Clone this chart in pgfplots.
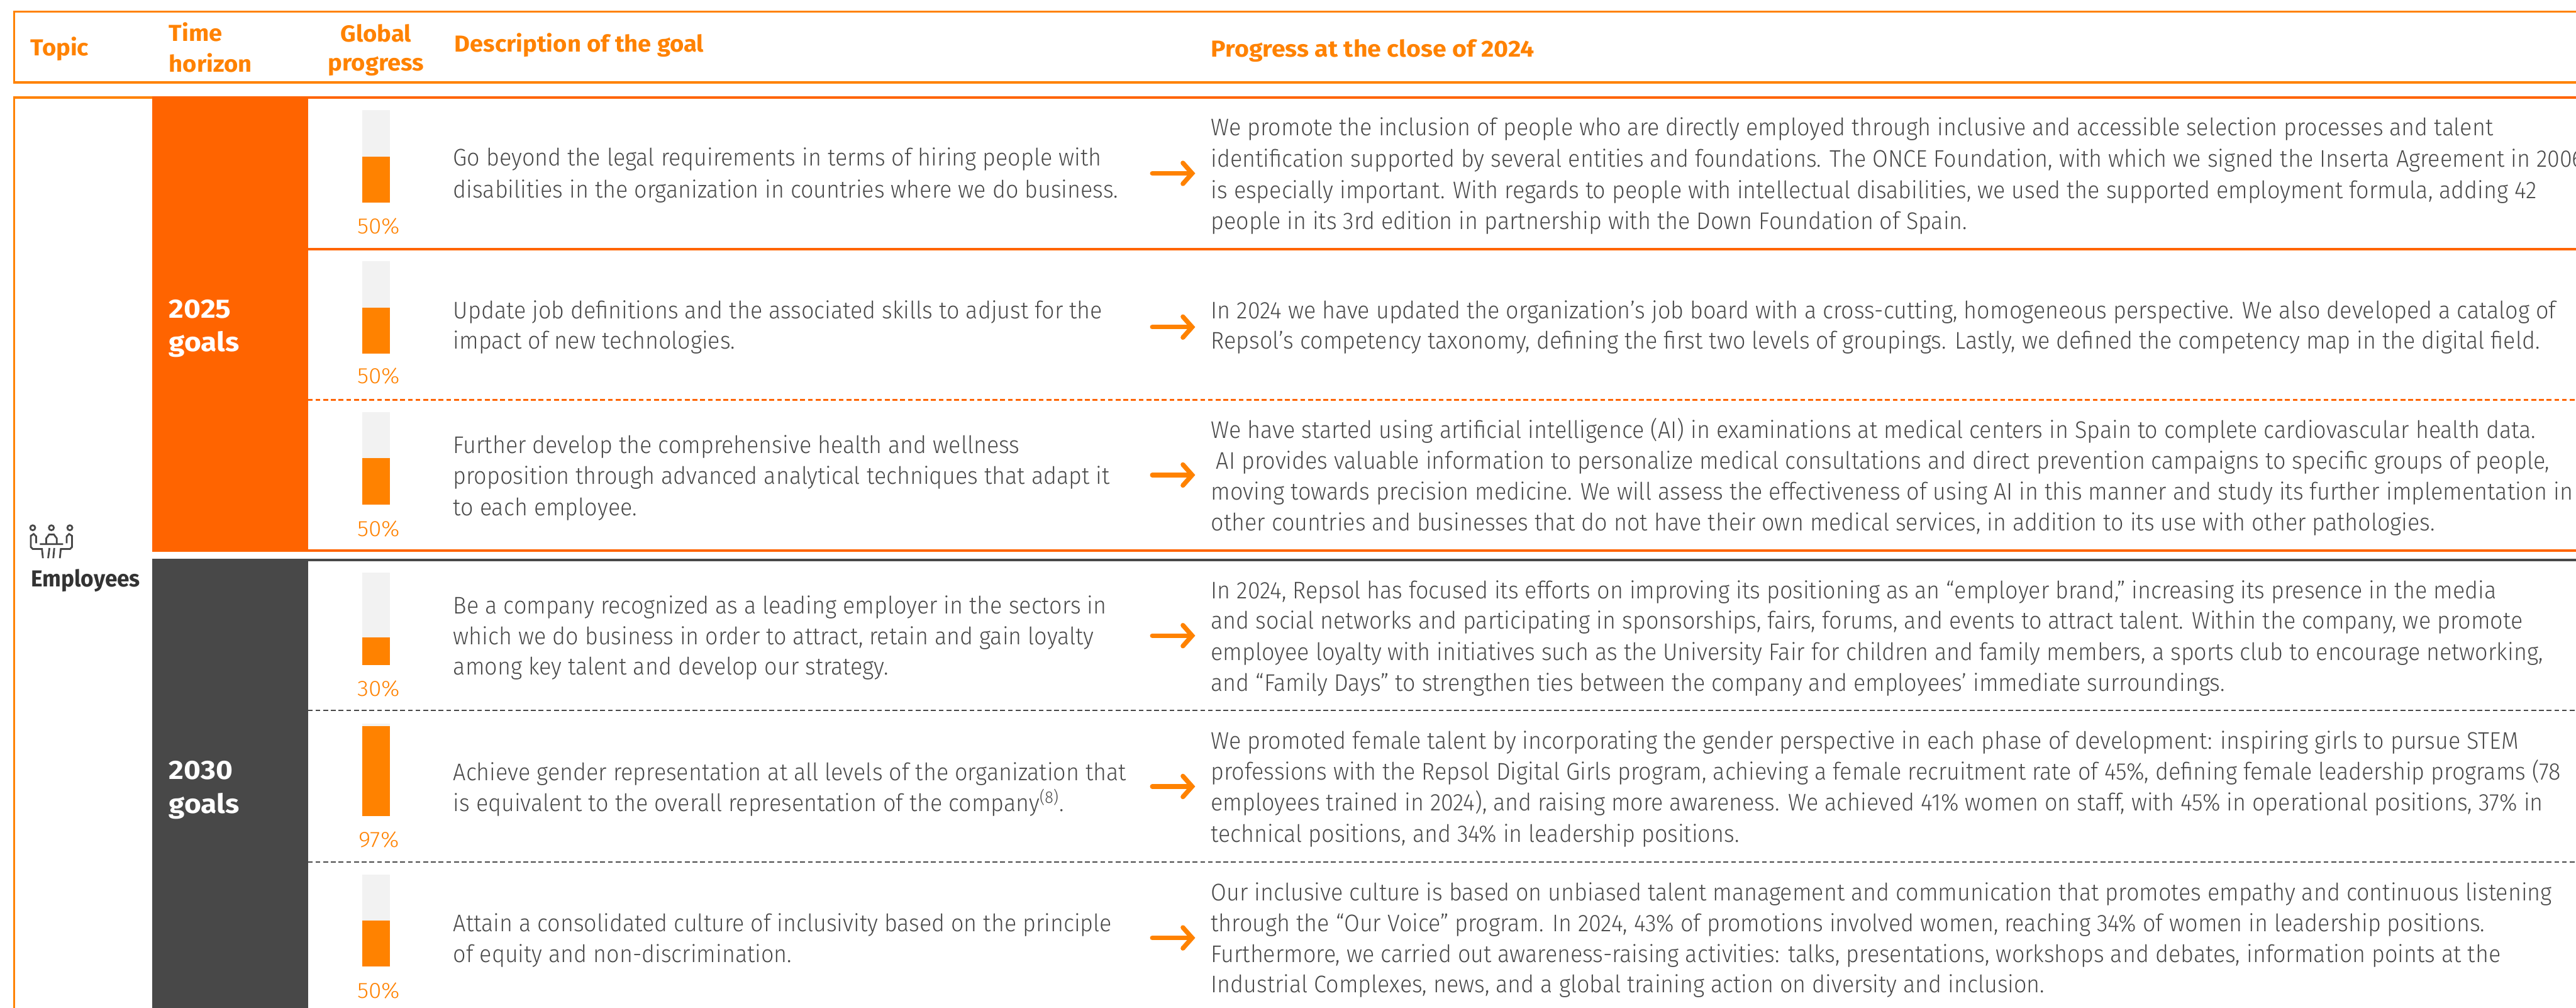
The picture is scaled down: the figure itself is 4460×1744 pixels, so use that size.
\documentclass[border=0pt]{standalone}
\usepackage{pgfplots}
\pgfplotsset{compat=1.18}
\usepackage{fontspec}
\setmainfont{Fira Sans}[UprightFont=* Light,BoldFont=* Bold]
\definecolor{org}{HTML}{FF8200}
\definecolor{rdo}{HTML}{FF6400}
\definecolor{drk}{HTML}{484848}
\definecolor{lgt}{HTML}{F2F2F2}
\definecolor{txt}{HTML}{4A4A4A}
\newfontfamily\bodyfam{Fira Sans Light}[FakeStretch=0.94]
\newfontfamily\pctfam{Fira Sans Light}[FakeStretch=1.05]
\newfontfamily\hdfam{Fira Sans Bold}[FakeStretch=1.04]
\newfontfamily\hdwfam{Fira Sans Bold}[FakeStretch=1.07]
\newfontfamily\emfam{Fira Sans Bold}[FakeStretch=0.96]
\newfontfamily\yrfam{Fira Sans Bold}[FakeStretch=1.09]
\newcommand\tl[3]{\node[anchor=base west,inner sep=0pt,text=txt,font=\fontsize{10.4}{12}\bodyfam] at (#1,#2) {#3};}
\newcommand\hd[3]{\node[anchor=base west,inner sep=0pt,text=org,font=\fontsize{10}{12}\hdfam] at (#1,#2) {#3};}
\newcommand\hdc[3]{\node[anchor=base,inner sep=0pt,text=org,font=\fontsize{10}{12}\hdfam] at (#1,#2) {#3};}
\newcommand\yr[2]{\node[anchor=base west,inner sep=0pt,text=white,font=\fontsize{11.5}{12}\yrfam] at (292,#1) {#2};}
\newcommand\arw[1]{\draw[org,line width=2pt,line join=miter] (2048,#1-18)--(2064,#1)--(2048,#1+18);
\draw[org,line width=2pt,line cap=round] (1995,#1)--(2062,#1);
\fill[org] (2048,#1-18) circle[radius=4] (2048,#1+18) circle[radius=4];}
% progress bar: top pixel of the track, value, pixel of the label
\newcommand\prog[3]{%
\pgfmathsetmacro{\pby}{-0.25*(#1+160)}%
\begin{axis}[at={(156.75pt,\pby pt)},anchor=south west,scale only axis,width=12pt,height=40pt,
  xmin=-0.5,xmax=0.5,ymin=0,ymax=100,axis lines=none,clip=false]
\addplot[ybar,bar width=12pt,bar shift=0pt,fill=lgt,draw=none] coordinates {(0,100)};
\addplot[ybar,bar width=12pt,bar shift=0pt,fill=org,draw=none] coordinates {(0,#2)};
\end{axis}
\node[anchor=base,inner sep=0pt,text=org,font=\fontsize{9.6}{12}\pctfam] at (656,#3) {#2\%};}
\begin{document}
\begin{tikzpicture}[x=0.25pt,y=-0.25pt]
\clip (0,0) rectangle (4460,1744);
\fill[white] (0,0) rectangle (4460,1744);
% header frame
\draw[org,line width=1pt] (4460,20)--(24.5,20)--(24.5,143)--(4460,143);
% body frame
\draw[org,line width=1pt] (24.5,1744)--(24.5,169)--(263,169);
\fill[rdo] (263,167) rectangle (533,955);
\fill[drk] (263,967) rectangle (533,1744);
\draw[rdo,line width=1pt] (533,169)--(4460,169) (533,431)--(4460,431) (533,953)--(4460,953);
\draw[rdo,line width=0.8pt,dash pattern=on 2.1pt off 1.23pt] (533,692)--(4460,692);
\draw[drk,line width=1pt] (533,969)--(4460,969);
\draw[drk,line width=0.65pt,dash pattern=on 2.1pt off 1.23pt] (533,1229.5)--(4460,1229.5) (533,1492)--(4460,1492);
% header text
\hd{52}{96}{Topic}
\hd{292}{71}{Time}
\hd{292}{125}{horizon}
\hdc{651}{72}{Global}
\hdc{651}{122}{progress}
\hd{786}{90}{Description of the goal}
\node[anchor=base west,inner sep=0pt,text=org,font=\fontsize{10}{12}\hdwfam] at (2096,99) {Progress at the close of 2024};
% side labels
\yr{550}{2025}
\yr{608}{goals}
\yr{1349}{2030}
\yr{1407}{goals}
\node[anchor=base west,inner sep=0pt,text=black!80,font=\fontsize{10}{12}\emfam] at (53,1015) {Employees};
% icon
\begin{scope}[shift={(20,890)},x=0.0833pt,y=-0.0833pt,drk,line width=0.75pt]
\draw (110,70) circle[radius=13] (207,70) circle[radius=13] (303,70) circle[radius=13];
\draw (128,150)--(128,115)--(115,102)--(100,112)--(100,170)--(110,180)--(158,180)--(163,228);
\draw (286,150)--(286,115)--(299,102)--(314,112)--(314,170)--(304,180)--(256,180)--(251,228);
\draw (180,155)--(180,125)--(195,105)--(220,105)--(235,125)--(235,155);
\draw (147,155)--(268,155) (197,175)--(190,228) (222,175)--(217,228);
\end{scope}
% progress bars
\prog{191}{50}{405}
\prog{452}{50}{664}
\prog{713}{50}{928}
\prog{991}{30}{1205}
\prog{1252}{97}{1466}
\prog{1513}{50}{1727}
% arrows
\arw{300}\arw{566}\arw{822}\arw{1100}\arw{1361}\arw{1623}
% description
\tl{784}{287}{Go beyond the legal requirements in terms of hiring people with}
\tl{784}{342}{disabilities in the organization in countries where we do business.}
\tl{784}{551}{Update job definitions and the associated skills to adjust for the}
\tl{784}{604}{impact of new technologies.}
\tl{784}{785}{Further develop the comprehensive health and wellness}
\tl{784}{838}{proposition through advanced analytical techniques that adapt it}
\tl{784}{892}{to each employee.}
\tl{784}{1062}{Be a company recognized as a leading employer in the sectors in}
\tl{784}{1115}{which we do business in order to attract, retain and gain loyalty}
\tl{784}{1168}{among key talent and develop our strategy.}
\tl{784}{1351}{Achieve gender representation at all levels of the organization that}
\tl{784}{1404}{is equivalent to the overall representation of the company\textsuperscript{(8)}.}
\tl{784}{1612}{Attain a consolidated culture of inclusivity based on the principle}
\tl{784}{1665}{of equity and non-discrimination.}
% progress text
\tl{2096}{235}{We promote the inclusion of people who are directly employed through inclusive and accessible selection processes and talent}
\tl{2096}{289}{identification supported by several entities and foundations. The ONCE Foundation, with which we signed the Inserta Agreement in 2006}
\tl{2096}{343}{is especially important. With regards to people with intellectual disabilities, we used the supported employment formula, adding 42}
\tl{2096}{397}{people in its 3rd edition in partnership with the Down Foundation of Spain.}
\tl{2096}{551}{In 2024 we have updated the organization’s job board with a cross-cutting, homogeneous perspective. We also developed a catalog of}
\tl{2096}{604}{Repsol’s competency taxonomy, defining the first two levels of groupings. Lastly, we defined the competency map in the digital field.}
\tl{2096}{758}{We have started using artificial intelligence (AI) in examinations at medical centers in Spain to complete cardiovascular health data.}
\tl{2105}{812}{AI provides valuable information to personalize medical consultations and direct prevention campaigns to specific groups of people,}
\tl{2096}{865}{moving towards precision medicine. We will assess the effectiveness of using AI in this manner and study its further implementation in}
\tl{2096}{918}{other countries and businesses that do not have their own medical services, in addition to its use with other pathologies.}
\tl{2096}{1036}{In 2024, Repsol has focused its efforts on improving its positioning as an “employer brand,” increasing its presence in the media}
\tl{2096}{1088}{and social networks and participating in sponsorships, fairs, forums, and events to attract talent. Within the company, we promote}
\tl{2096}{1143}{employee loyalty with initiatives such as the University Fair for children and family members, a sports club to encourage networking,}
\tl{2096}{1196}{and “Family Days” to strengthen ties between the company and employees’ immediate surroundings.}
\tl{2096}{1296}{We promoted female talent by incorporating the gender perspective in each phase of development: inspiring girls to pursue STEM}
\tl{2096}{1350}{professions with the Repsol Digital Girls program, achieving a female recruitment rate of 45\%, defining female leadership programs (78}
\tl{2096}{1403}{employees trained in 2024), and raising more awareness. We achieved 41\% women on staff, with 45\% in operational positions, 37\% in}
\tl{2096}{1457}{technical positions, and 34\% in leadership positions.}
\tl{2096}{1559}{Our inclusive culture is based on unbiased talent management and communication that promotes empathy and continuous listening}
\tl{2096}{1612}{through the “Our Voice” program. In 2024, 43\% of promotions involved women, reaching 34\% of women in leadership positions.}
\tl{2096}{1665}{Furthermore, we carried out awareness-raising activities: talks, presentations, workshops and debates, information points at the}
\tl{2096}{1718}{Industrial Complexes, news, and a global training action on diversity and inclusion.}
\end{tikzpicture}
\end{document}
